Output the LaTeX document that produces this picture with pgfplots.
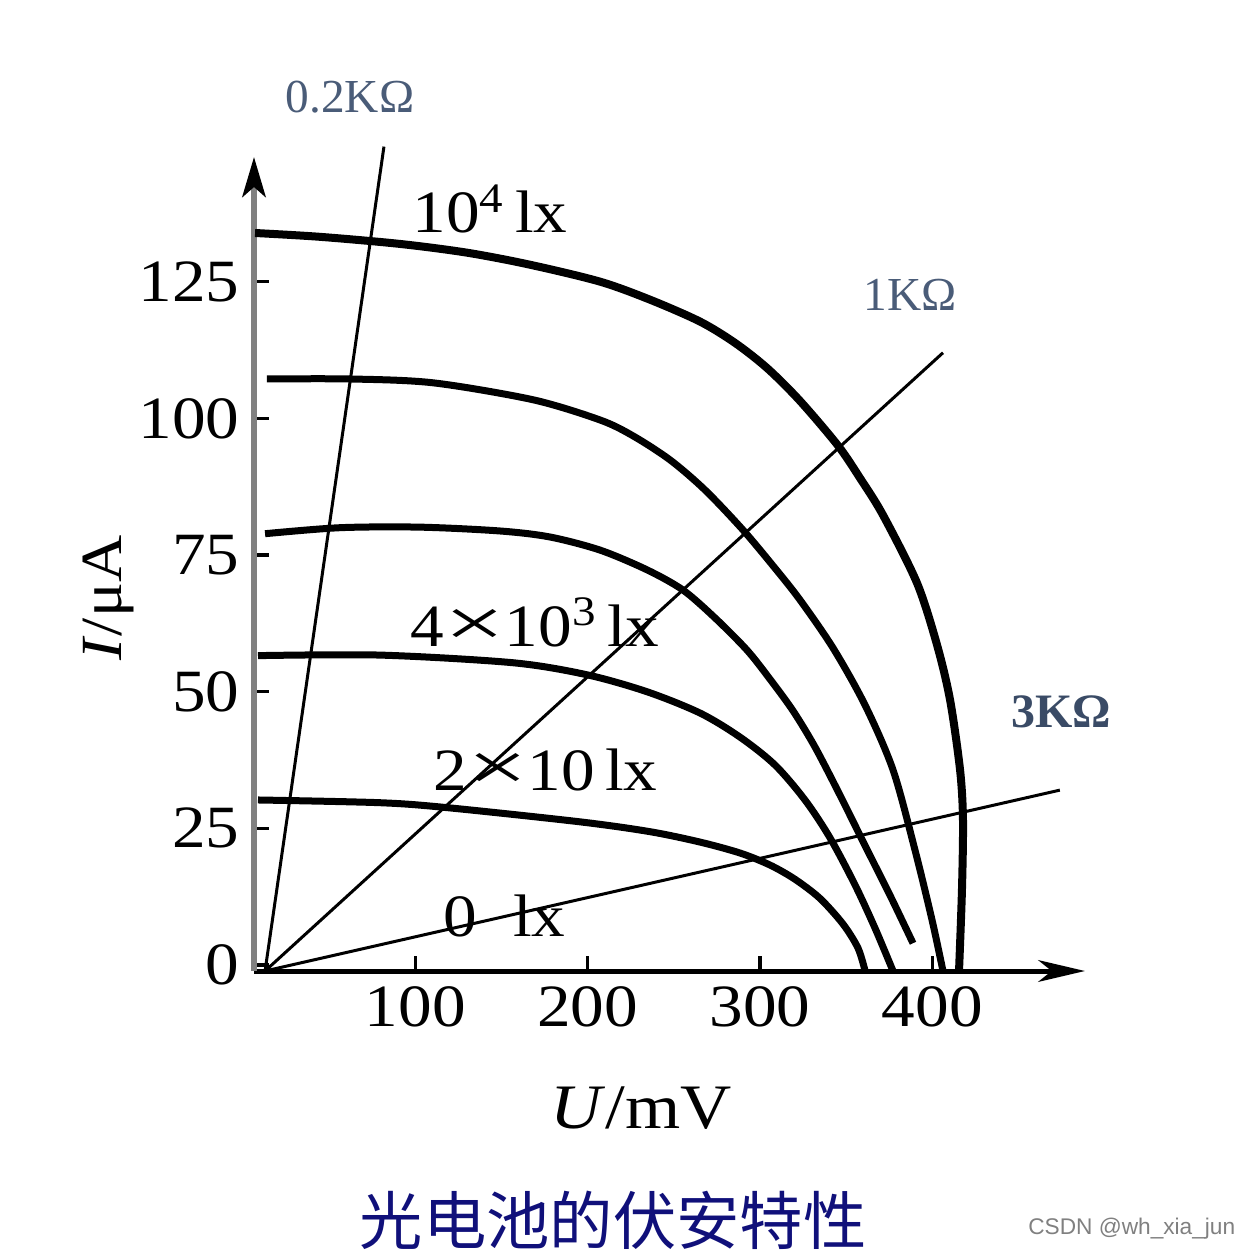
\documentclass[border=0pt]{standalone}
\usepackage{pgfplots}
\pgfplotsset{compat=1.18}
\usepackage{graphicx}
\usepackage{fontspec}
\setmainfont{Liberation Serif}
\newfontfamily\wide[FakeStretch=1.12]{Liberation Serif}
\newfontfamily\cjk{Noto Sans CJK SC}
\newfontfamily\wsans{Liberation Sans}
\usetikzlibrary{arrows.meta}
\definecolor{lbl}{HTML}{4A5C78}
\definecolor{lblb}{HTML}{3A4B66}
\definecolor{ttl}{HTML}{10107A}
\newcommand{\bx}{\scalebox{1.6}[1.15]{×}}
\begin{document}
\begin{tikzpicture}
\path[use as bounding box] (-76.2pt,-84pt) rectangle (298.8pt,291.3pt);
\begin{axis}[
 scale only axis, width=249.3pt, height=244.2pt,
 xmin=6.38, xmax=488.6, ymin=-1.08, ymax=147.8,
 axis lines=left, clip=false,
 xtick={100,200,300,400}, ytick={0,25,50,75,100,125},
 tick align=inside, major tick length=4.5pt,
 tick style={black, line width=1pt},
 x axis line style={black, line width=1.5pt, -{Stealth[length=14pt,width=6.5pt,inset=4pt]}},
 y axis line style={draw=gray, line width=1.8pt, -{Stealth[length=12pt,width=7pt,inset=3pt,black]}},
 ticklabel style={font=\wide\fontsize{18}{20}\selectfont},
 /pgf/number format/assume math mode=true,
 xticklabel style={yshift=-1pt},
 yticklabel style={xshift=-0.8pt},
]
% 10^4 lx
\addplot[black, line width=2.4pt, smooth] coordinates {
(7.0,133.9) (44.7,133.2) (91.1,131.9) (130.0,130.3) (166.5,128.1) (207.2,125.0) (236.2,121.7) (265.2,117.7) (285.5,113.8) (304.1,109.2) (323.2,103.2) (345.3,95.0) (358.0,89.1) (371.4,82.3) (391.1,69.9) (402.7,58.6) (410.3,48.5) (416.1,35.7) (417.8,26.6) (417.2,13.7) (415.5,-1.08)};
% 107
\addplot[black, line width=2.1pt, smooth] coordinates {
(13.9,107.2) (62.1,107.2) (110.3,106.5) (168.3,103.4) (207.2,99.7) (226.3,96.8) (247.8,92.4) (268.1,86.9) (290.1,79.6) (308.7,72.6) (323.2,66.8) (342.4,58.0) (360.9,47.6) (377.2,35.7) (389.9,21.1) (399.8,8.3) (406.2,-1.08)};
% 79
\addplot[black, line width=2.1pt, smooth] coordinates {
(12.8,78.9) (56.3,80.0) (102.7,80.1) (149.1,79.4) (178.1,78.3) (207.2,75.9) (234.4,72.3) (255.3,68.6) (273.9,63.5) (292.5,57.6) (305.8,52.3) (319.2,46.5) (331.9,39.9) (346.4,31.1) (360.9,21.9) (375.4,12.8) (388.8,4.0)};
% 57
\addplot[black, line width=2.1pt, smooth] coordinates {
(8.7,56.6) (79.5,56.7) (156.7,55.3) (199.6,53.1) (234.4,50.0) (265.2,46.1) (288.4,41.7) (308.7,36.6) (326.1,30.2) (340.6,23.3) (355.1,14.7) (366.7,6.8) (377.2,-1.08)};
% 29
\addplot[black, line width=2.1pt, smooth] coordinates {
(8.7,30.2) (79.5,29.7) (118.4,28.8) (195.6,26.2) (236.2,24.4) (265.2,22.5) (288.4,20.5) (305.8,18.3) (320.3,15.7) (334.8,12.2) (348.2,7.5) (356.9,3.1) (361.0,-1.08)};
% load lines
\addplot[black, line width=0.9pt] coordinates {(12.8,-1.08) (81.8,149.7)};
\addplot[black, line width=0.9pt] coordinates {(12.8,-1.08) (406.2,112.0)};
\addplot[black, line width=0.9pt] coordinates {(12.8,-1.08) (474.0,32.0)};
\end{axis}
\begin{scope}[x=0.3pt,y=-0.3pt,shift={(-76.2pt,291.3pt)}]
\node[text=lbl, font=\fontsize{14.2}{16}\selectfont] at (350,97) {0.2KΩ};
\node[text=lbl, font=\fontsize{14.2}{16}\selectfont] at (910,295) {1KΩ};
\node[text=lblb, font=\bfseries\fontsize{14.4}{16}\selectfont] at (1061,712) {3KΩ};
\node[anchor=base west, inner sep=0pt, font=\wide\fontsize{18}{20}\selectfont] at (412,233) {10\textsuperscript{4}\,lx};
\node[anchor=base west, inner sep=0pt, font=\wide\fontsize{18}{20}\selectfont] at (410,646) {4\bx10\textsuperscript{3}\,lx};
\node[anchor=base west, inner sep=0pt, font=\wide\fontsize{18}{20}\selectfont] at (433,790) {2\bx10\,lx};
\node[anchor=base west, inner sep=0pt, font=\wide\fontsize{18}{20}\selectfont] at (443,936) {0\hspace{0.6em}lx};
\node[rotate=90, font=\wide\fontsize{17.5}{20}\selectfont] at (108,598) {\textit{I}/μA};
\node[font=\wide\fontsize{19}{20}\selectfont] at (641,1108) {\textit{U}/mV};
\node[text=ttl, font=\cjk\fontsize{19}{20}\selectfont] at (613,1220) {光电池的伏安特性};
\node[anchor=east, text=gray, font=\wsans\fontsize{6.8}{8}\selectfont] at (1247,1229) {CSDN @wh\_xia\_jun};
\end{scope}
\end{tikzpicture}
\end{document}
